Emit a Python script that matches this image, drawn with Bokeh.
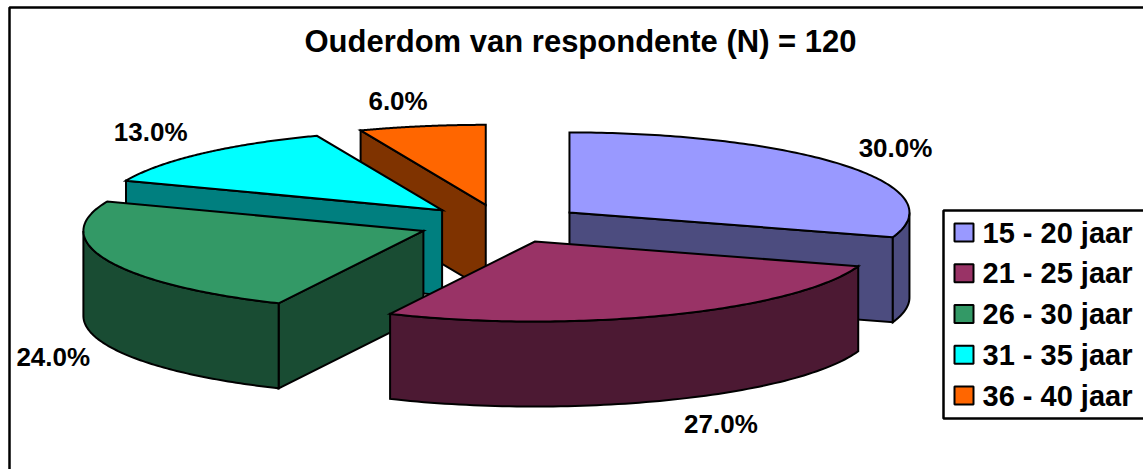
import numpy as np
from bokeh.core.properties import value
from bokeh.embed import file_html
from bokeh.models import Range1d
from bokeh.plotting import figure
from bokeh.resources import INLINE

# ---- data -------------------------------------------------------------
title_text = "Ouderdom van respondente (N) = 120"
categories = ["15 - 20 jaar", "21 - 25 jaar", "26 - 30 jaar", "31 - 35 jaar", "36 - 40 jaar"]
percentages = [30.0, 27.0, 24.0, 13.0, 6.0]
colours = ["#9999FF", "#993366", "#339966", "#00FFFF", "#FF6600"]

# ---- layout (pixels of the page) ----------------------------------------
W, H = 1143, 469
CX, CY = 501.0, 223.3      # pie centre
RX, RY = 340.0, 80.0       # top-face ellipse radii
DEPTH = 85.0               # extrusion
EX, EY = 84.0, 19.3        # explosion distance
LINE_W = 2.0
FONT = value("Liberation Sans")
LABEL_NUDGE = [(51, -17), (51, 109), (-54, 97), (-51, -22), (-24, -25)]
DRAW_ORDER = [4, 3, 2, 0, 1]
LEG_LEFT, LEG_TOP, LEG_BOTTOM = 943, 210, 418
LEG_SWATCH_X, LEG_SWATCH_W, LEG_SWATCH_H = 954, 19, 18
LEG_TEXT_X, LEG_FIRST_Y, LEG_PITCH = 982, 232, 40.75


def darker(hex_colour):
    r, g, b = (int(hex_colour[i:i + 2], 16) // 2 for i in (1, 3, 5))
    return f"#{r:02x}{g:02x}{b:02x}"


def rim(ax, ay, deg):
    t = np.radians(deg)
    return ax + RX * np.sin(t), ay - RY * np.cos(t)


p = figure(width=W, height=H, output_backend="svg", toolbar_location=None,
           x_range=Range1d(0, W), y_range=Range1d(H, 0), min_border=0,
           outline_line_color=None, background_fill_color="white",
           border_fill_color="white")
p.axis.visible = False
p.grid.visible = False

# outer chart-area frame, running off the window at right and bottom
p.line([W + 40, 9, 9], [7, 7, H + 40], line_color="black", line_width=2.5)

edges = np.concatenate([[0], np.cumsum(percentages)]) * 3.6
mids = (edges[:-1] + edges[1:]) / 2

for i in DRAW_ORDER:
    ts, te, tm = edges[i], edges[i + 1], mids[i]
    ax = CX + EX * np.sin(np.radians(tm))
    ay = CY - EY * np.cos(np.radians(tm))
    wall = dict(fill_color=darker(colours[i]), line_color="black", line_width=LINE_W, line_join="miter")

    # radial walls that face the viewer
    if np.sin(np.radians(ts)) < -1e-9:
        x, y = rim(ax, ay, ts)
        p.patch([ax, x, x, ax], [ay, y, y + DEPTH, ay + DEPTH], **wall)
    if np.sin(np.radians(te)) > 1e-9:
        x, y = rim(ax, ay, te)
        p.patch([ax, x, x, ax], [ay, y, y + DEPTH, ay + DEPTH], **wall)

    # outer wall, only the part on the front half of the ellipse
    lo, hi = max(ts, 90.0), min(te, 270.0)
    if hi > lo:
        x, y = rim(ax, ay, np.linspace(lo, hi, 80))
        p.patch(np.r_[x, x[::-1]], np.r_[y, (y + DEPTH)[::-1]], **wall)

    # top face
    x, y = rim(ax, ay, np.linspace(ts, te, 120))
    p.patch(np.r_[ax, x], np.r_[ay, y], fill_color=colours[i], line_color="black",
            line_width=LINE_W, line_join="miter")

# percentage labels
lx, ly, lt = [], [], []
for i, pct in enumerate(percentages):
    ax = CX + EX * np.sin(np.radians(mids[i]))
    ay = CY - EY * np.cos(np.radians(mids[i]))
    x, y = rim(ax, ay, mids[i])
    lx.append(x + LABEL_NUDGE[i][0])
    ly.append(y + LABEL_NUDGE[i][1])
    lt.append(f"{pct:.1f}%")
p.text(lx, ly, lt, text_font=FONT, text_font_style="bold", text_font_size="26px",
       text_align="center", text_baseline="middle", text_color="black")

p.text([580], [41], [title_text], text_font=FONT, text_font_style="bold",
       text_font_size="31px", text_align="center", text_baseline="middle",
       text_color="black")

# legend box (runs off the window at the right, as in the source picture)
p.line([W + 40, LEG_LEFT, LEG_LEFT, W + 40], [LEG_TOP, LEG_TOP, LEG_BOTTOM, LEG_BOTTOM],
       line_color="black", line_width=2.5)
leg_y = [LEG_FIRST_Y + LEG_PITCH * i for i in range(len(categories))]
p.rect([LEG_SWATCH_X + LEG_SWATCH_W / 2] * len(categories), leg_y, LEG_SWATCH_W, LEG_SWATCH_H,
       fill_color=colours, line_color="black", line_width=LINE_W)
p.text([LEG_TEXT_X] * len(categories), leg_y, categories, text_font=FONT, text_font_style="bold",
       text_font_size="29px", text_align="left", text_baseline="middle", text_color="black")

open("out.html", "w").write(file_html(p, INLINE))
